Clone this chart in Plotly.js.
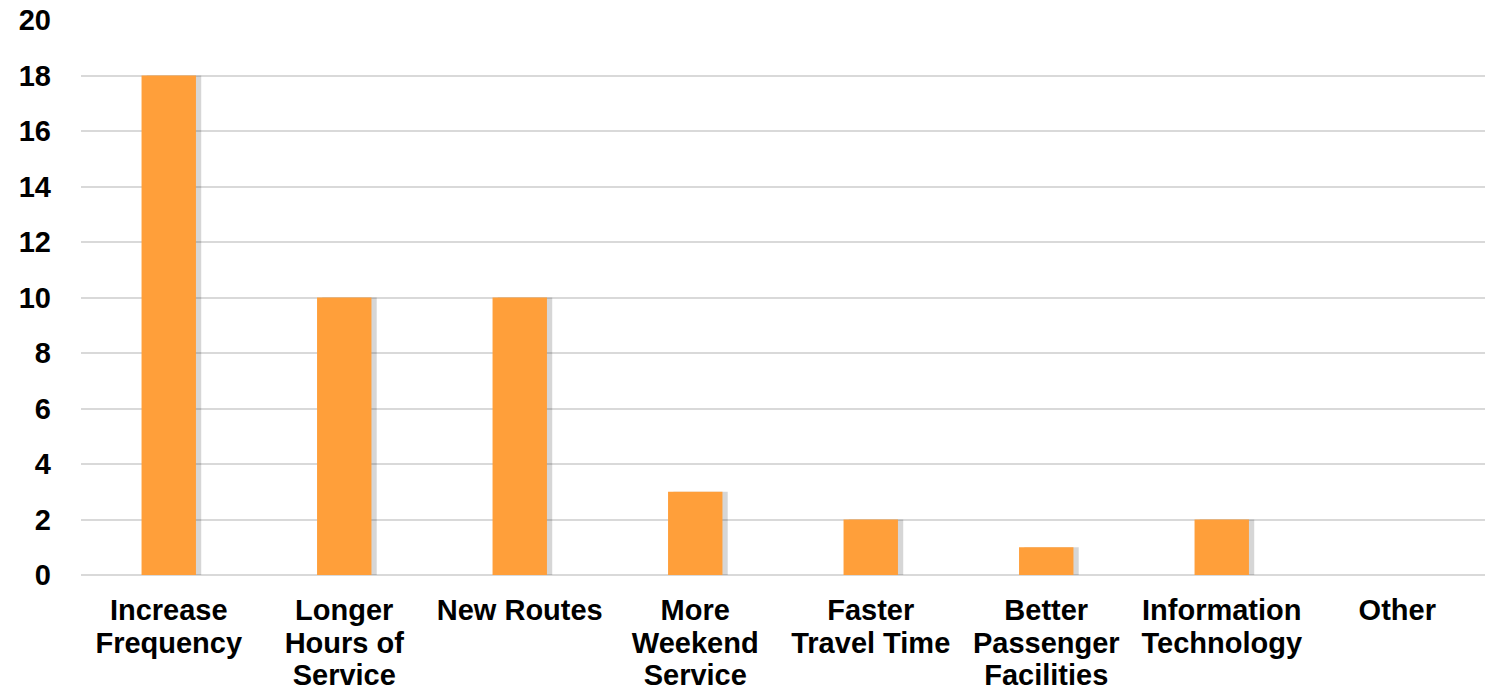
<!DOCTYPE html>
<html>
<head>
<meta charset="utf-8">
<script src="https://cdn.plot.ly/plotly-3.0.1.min.js"></script>
<style>html,body{margin:0;padding:0;background:#fff;}#chart{width:1486px;height:690px;}</style>
</head>
<body>
<div id="chart"></div>
<script>
const categories = ["Increase<br>Frequency", "Longer<br>Hours of<br>Service", "New Routes", "More<br>Weekend<br>Service", "Faster<br>Travel Time", "Better<br>Passenger<br>Facilities", "Information<br>Technology", "Other"];
const values = [18, 10, 10, 3, 2, 1, 2, 0];
const yTicks = [0, 2, 4, 6, 8, 10, 12, 14, 16, 18, 20];

// larger glyphs inside spans keep the tighter line spacing of the reference
const tickText = categories.map(c => c.split('<br>').map(l => '<span style="font-size:29px">' + l + '</span>').join('<br>'));

const shadow = {
  type: 'bar', x: categories, y: values,
  width: 0.31, offset: -0.155 + 0.03,
  marker: {color: 'rgba(0,0,0,0.16)', line: {width: 0}},
  hoverinfo: 'skip', showlegend: false
};
const bars = {
  type: 'bar', x: categories, y: values,
  width: 0.31, offset: -0.155,
  marker: {color: '#FF9F3A', line: {width: 0}},
  showlegend: false
};
Plotly.newPlot('chart', [shadow, bars], {
  width: 1486, height: 690,
  margin: {l: 81, r: 1, t: 20, b: 115},
  paper_bgcolor: '#fff', plot_bgcolor: '#fff',
  barmode: 'overlay',
  font: {family: 'Liberation Sans, Arial, sans-serif', size: 25, color: '#000'},
  xaxis: {showgrid: false, showline: false, ticks: '', tickmode: 'array', tickvals: categories, ticktext: tickText,
          tickfont: {size: 25, weight: 'bold'}, ticklabelstandoff: 19},
  yaxis: {range: [0, 20], tickvals: yTicks, gridcolor: '#d9d9d9', gridwidth: 2, zeroline: true, zerolinecolor: '#d9d9d9', zerolinewidth: 2, showline: false, ticks: '', tickfont: {size: 29, weight: 'bold'}, ticklabelstandoff: 29}
}, {displayModeBar: false, staticPlot: true});
</script>
</body>
</html>
